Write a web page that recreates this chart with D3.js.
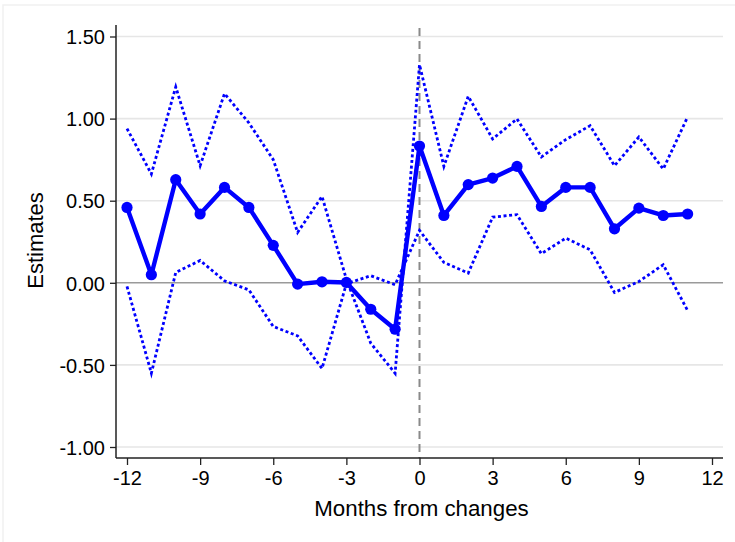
<!DOCTYPE html>
<html>
<head>
<meta charset="utf-8">
<script src="https://cdn.jsdelivr.net/npm/d3@7"></script>
<style>
  html, body { margin: 0; padding: 0; background: #fff; }
  svg { display: block; }
  text { font-family: "Liberation Sans", Arial, sans-serif; fill: #000; }
</style>
</head>
<body>
<svg id="chart" width="735" height="542"></svg>
<script>
// Event-study estimates by month relative to the change
const months = d3.range(-12, 12);
const estimates = [0.459, 0.049, 0.628, 0.419, 0.581, 0.459, 0.228, -0.008, 0.006, 0.002, -0.161, -0.283,
                   0.833, 0.410, 0.598, 0.638, 0.709, 0.465, 0.581, 0.581, 0.329, 0.455, 0.410, 0.419];
const upperCI = [0.939, 0.663, 1.193, 0.713, 1.152, 0.974, 0.750, 0.307, 0.526, 0.022, -0.368, -0.551,
                 1.329, 0.709, 1.136, 0.876, 0.998, 0.766, 0.872, 0.957, 0.713, 0.888, 0.693, 1.010];
const lowerCI = [-0.022, -0.551, 0.063, 0.136, 0.012, -0.043, -0.266, -0.323, -0.522, -0.006, 0.043, -0.012,
                 0.319, 0.124, 0.059, 0.400, 0.415, 0.177, 0.272, 0.201, -0.059, 0.008, 0.110, -0.169];
const xTicks = [-12, -9, -6, -3, 0, 3, 6, 9, 12];
const yTicks = [-1.0, -0.5, 0.0, 0.5, 1.0, 1.5];

const svg = d3.select("#chart");
const plotLeft = 116, plotRight = 723, plotTop = 25, plotBottom = 458;

const x = d3.scaleLinear().domain([-12, 12]).range([127, 712]);
const y = d3.scaleLinear().domain([-1, 1.5]).range([447, 36.5]);

// faint outer frame edges (top and left)
svg.append("path")
  .attr("d", "M3,542 V5 H735")
  .attr("fill", "none").attr("stroke", "#f1f1f1").attr("stroke-width", 1.5);

// horizontal grid
svg.append("g").selectAll("line").data(yTicks.filter(d => d !== 0)).join("line")
  .attr("x1", plotLeft).attr("x2", plotRight)
  .attr("y1", d => y(d)).attr("y2", d => y(d))
  .attr("stroke", "#e6e6e6").attr("stroke-width", 1.6);

// zero reference line
svg.append("line")
  .attr("x1", plotLeft).attr("x2", plotRight)
  .attr("y1", y(0)).attr("y2", y(0))
  .attr("stroke", "#9a9a9a").attr("stroke-width", 1.5);

// vertical marker at month 0
svg.append("line")
  .attr("x1", x(0)).attr("x2", x(0))
  .attr("y1", 28).attr("y2", plotBottom)
  .attr("stroke", "#8a8a8a").attr("stroke-width", 2)
  .attr("stroke-dasharray", "8,5");

// confidence bands (dotted)
const line = d3.line().x((d, i) => x(months[i])).y(d => y(d));
[upperCI, lowerCI].forEach(series => {
  svg.append("path")
    .datum(series)
    .attr("d", line)
    .attr("fill", "none")
    .attr("stroke", "#0000ff")
    .attr("stroke-width", 2.8)
    .attr("stroke-dasharray", "3,2.6");
});

// estimates line with markers
svg.append("path")
  .datum(estimates)
  .attr("d", line)
  .attr("fill", "none")
  .attr("stroke", "#0000ff")
  .attr("stroke-width", 4.4)
  .attr("stroke-linejoin", "round");

svg.append("g").selectAll("circle").data(estimates).join("circle")
  .attr("cx", (d, i) => x(months[i]))
  .attr("cy", d => y(d))
  .attr("r", 5.6)
  .attr("fill", "#0000ff");

// axes
const yAxis = svg.append("g")
  .attr("transform", `translate(${plotLeft},0)`)
  .call(d3.axisLeft(y).tickValues(yTicks).tickFormat(d3.format(".2f")).tickSize(6).tickPadding(5));
yAxis.select(".domain").remove();
yAxis.append("line").attr("x1", 0).attr("x2", 0).attr("y1", plotTop).attr("y2", plotBottom)
  .attr("stroke", "#222").attr("stroke-width", 1.5);

const xAxis = svg.append("g")
  .attr("transform", `translate(0,${plotBottom})`)
  .call(d3.axisBottom(x).tickValues(xTicks).tickFormat(d3.format("d")).tickSize(7).tickPadding(5));
xAxis.select(".domain").remove();
xAxis.append("line").attr("x1", plotLeft).attr("x2", plotRight).attr("y1", 0).attr("y2", 0)
  .attr("stroke", "#222").attr("stroke-width", 1.5);

svg.selectAll(".tick line").attr("stroke", "#222").attr("stroke-width", 1.3);
svg.selectAll(".tick text")
  .style("font-family", "'Liberation Sans', Arial, sans-serif")
  .style("font-size", "20px")
  .attr("fill", "#000");
yAxis.selectAll(".tick text").attr("dy", "0.36em");
xAxis.selectAll(".tick text").attr("dy", "0.75em");
// replace the typographic minus with a plain hyphen
svg.selectAll(".tick text").text(function() { return this.textContent.replace("\u2212", "-"); });

// axis titles
svg.append("text")
  .attr("x", (plotLeft + plotRight) / 2 + 2).attr("y", 516)
  .attr("text-anchor", "middle")
  .style("font-size", "22.3px")
  .text("Months from changes");

svg.append("text")
  .attr("transform", `translate(43,${(plotTop + plotBottom) / 2 - 1}) rotate(-90)`)
  .attr("text-anchor", "middle")
  .style("font-size", "22px")
  .text("Estimates");
</script>
</body>
</html>
